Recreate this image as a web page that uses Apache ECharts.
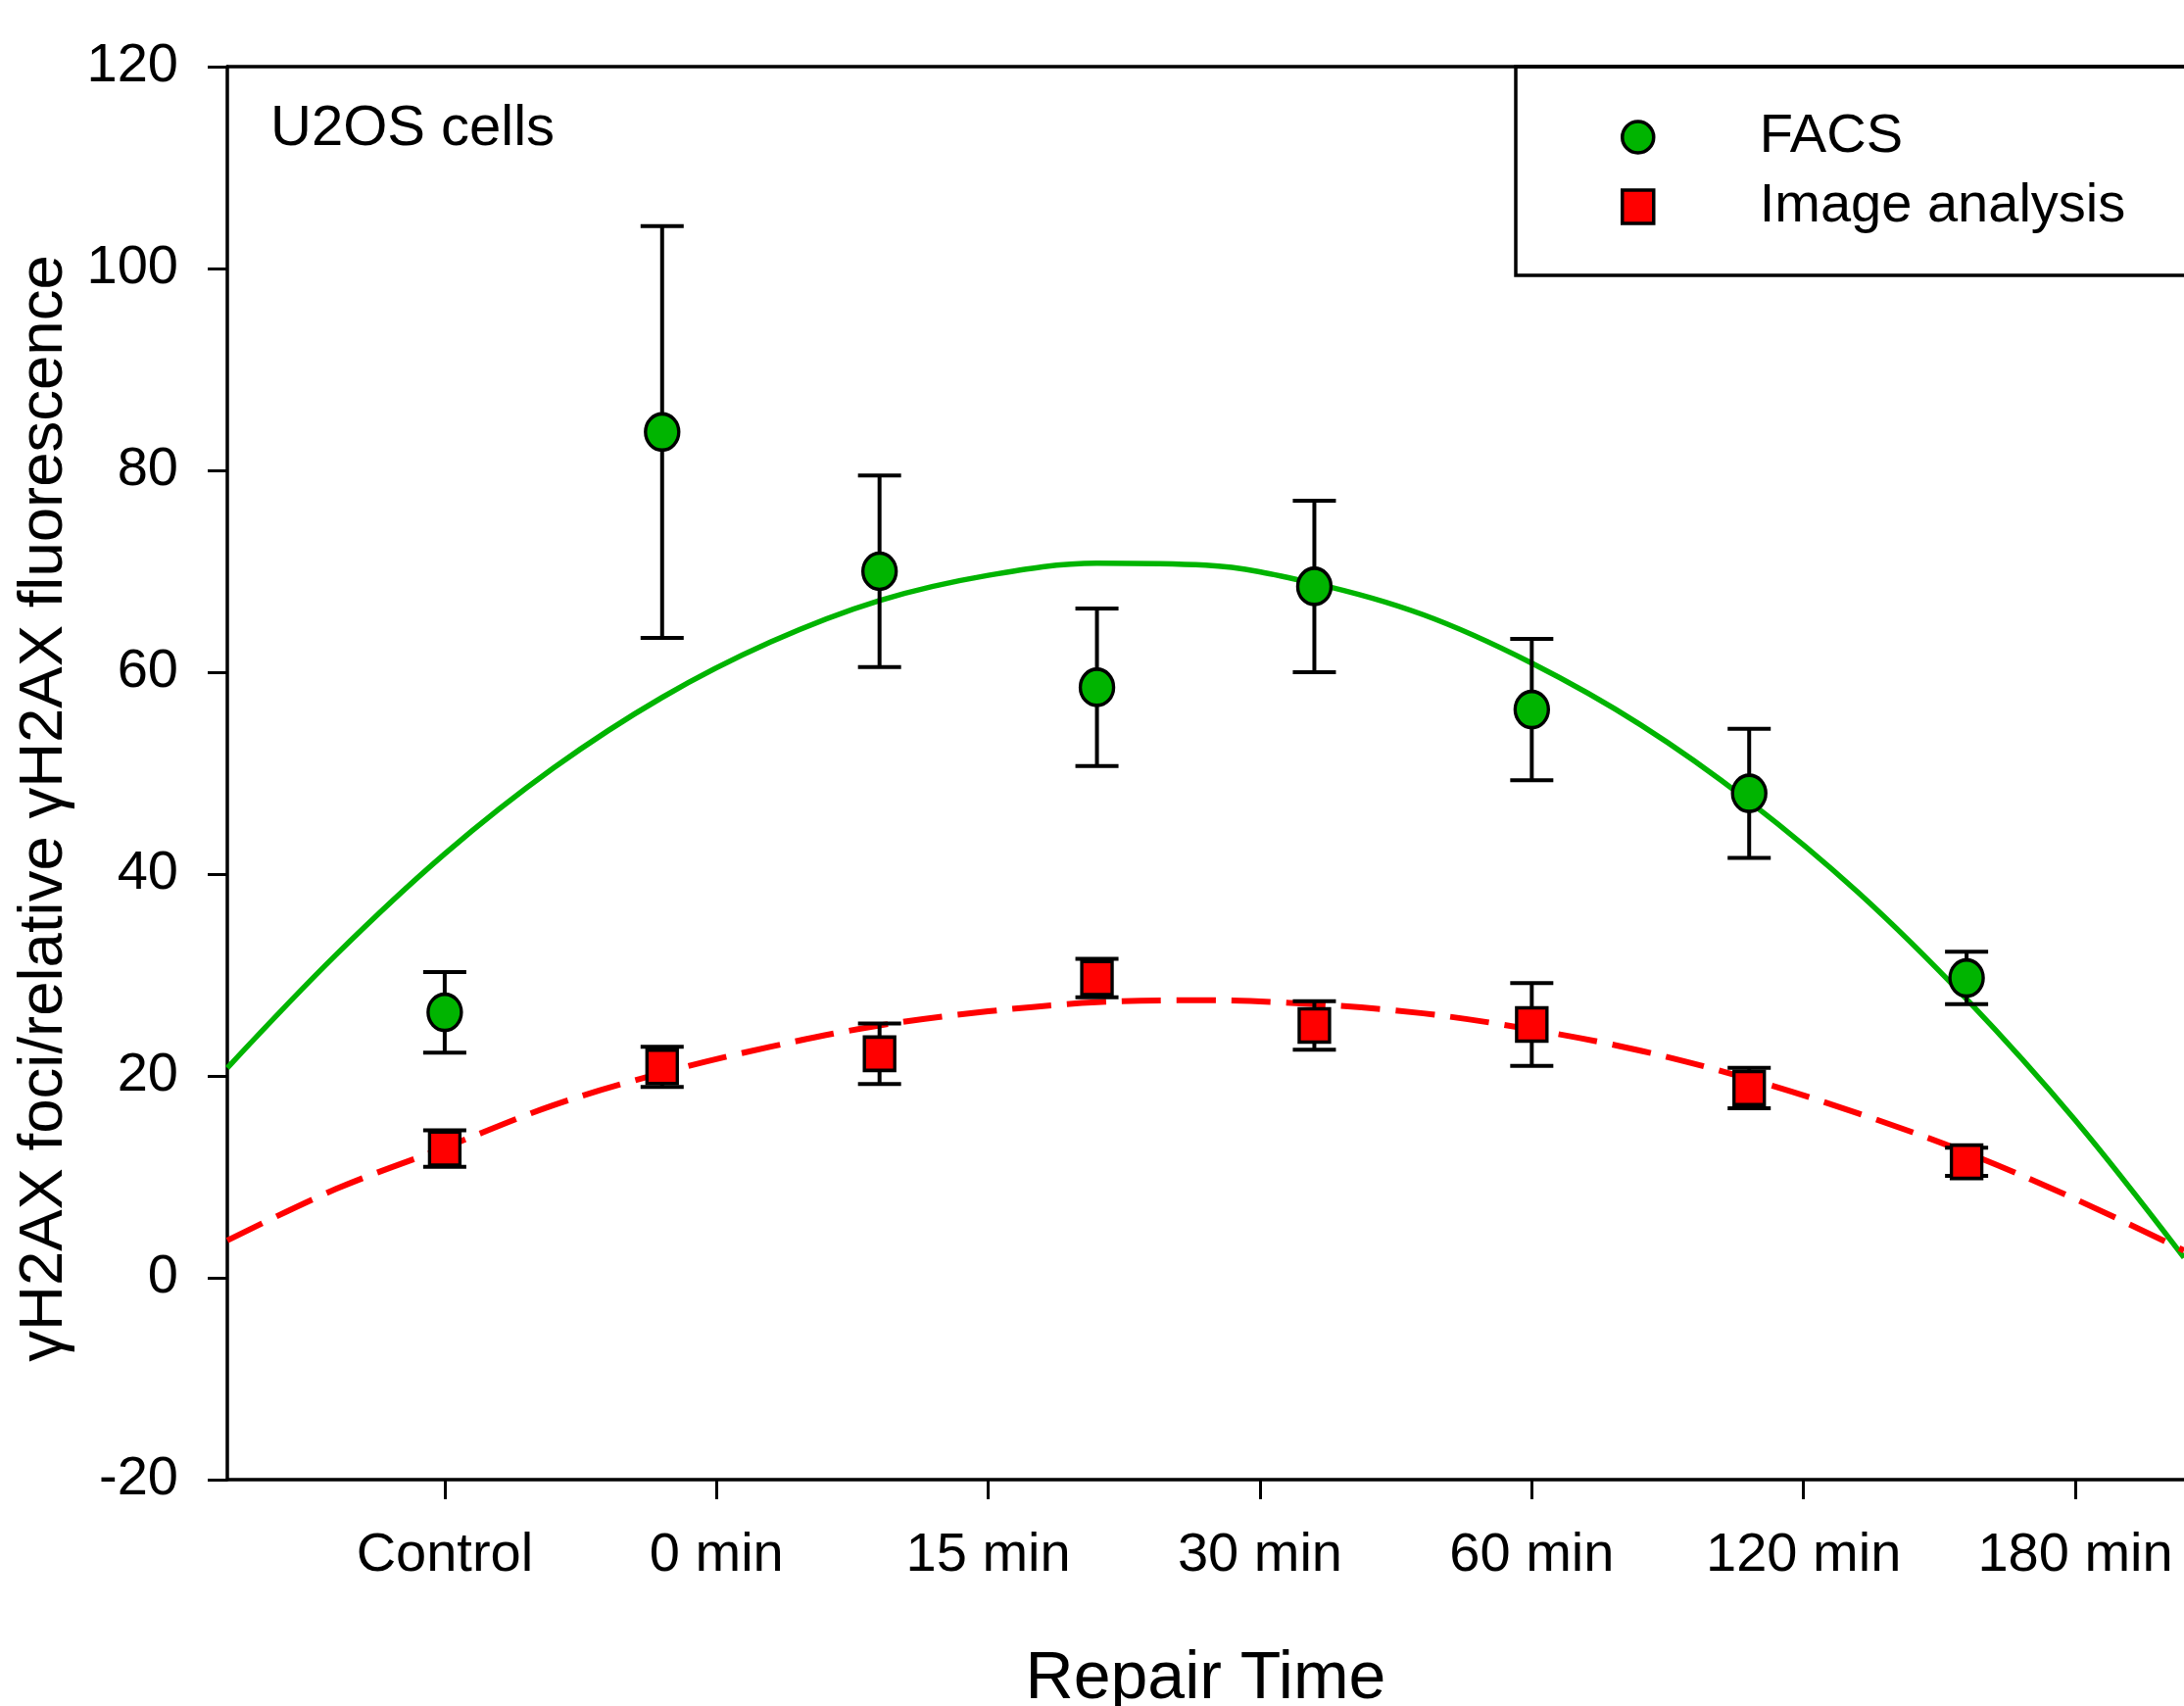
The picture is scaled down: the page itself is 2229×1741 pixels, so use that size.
<!DOCTYPE html>
<html>
<head>
<meta charset="utf-8">
<script src="https://cdn.jsdelivr.net/npm/echarts@6/dist/echarts.min.js"></script>
<style>
html,body{margin:0;padding:0;background:#fff;overflow:hidden}
#chart{width:2229px;height:1741px}
</style>
</head>
<body>
<div id="chart"></div>
<script>
// ---- data ----
const pointX = [1, 2, 3, 4, 5, 6, 7, 8];
const facsMean = [26.3, 83.8, 70.0, 58.5, 68.5, 56.3, 48.0, 29.7];
const facsErr  = [4.0, 20.4, 9.5, 7.8, 8.5, 7.0, 6.4, 2.6];
const imageMean = [12.8, 20.9, 22.2, 29.7, 25.0, 25.1, 18.8, 11.5];
const imageErr  = [1.8, 2.0, 3.0, 1.9, 2.4, 4.1, 2.0, 1.4];

const fitX    = [0, 0.5, 1, 1.5, 2, 2.5, 3, 3.5, 4, 4.5, 5, 5.5, 6, 6.5, 7, 7.5, 8, 8.5, 9];
const facsFit = [20.8, 32.0, 42.0, 50.5, 57.5, 63.0, 67.1, 69.6, 70.8, 70.6, 68.8, 65.7, 60.9, 54.8, 47.2, 38.2, 27.6, 15.6, 2.0];
const imageFit = [3.7, 8.8, 12.9, 17.1, 20.3, 22.9, 25.0, 26.4, 27.3, 27.5, 27.1, 26.2, 24.6, 22.5, 19.7, 16.3, 12.4, 7.8, 2.7];

const tickValues = [1, 2.25, 3.5, 4.75, 6, 7.25, 8.5];
const tickLabels = ['Control', '0 min', '15 min', '30 min', '60 min', '120 min', '180 min'];

const FONT = '"Liberation Sans", Arial, sans-serif';
const GREEN = '#00b400';
const RED = '#ff0000';

function errorBars(means, errs) {
  return {
    type: 'custom',
    xAxisIndex: 0, yAxisIndex: 0,
    silent: true,
    z: 3,
    data: pointX.map((x, i) => [x, means[i] - errs[i], means[i] + errs[i]]),
    encode: { x: 0, y: [1, 2] },
    renderItem: function (params, api) {
      const x = api.value(0);
      const lo = api.coord([x, api.value(1)]);
      const hi = api.coord([x, api.value(2)]);
      const hw = 22;
      const style = { stroke: '#000', lineWidth: 4, fill: null };
      return {
        type: 'group',
        children: [
          { type: 'line', shape: { x1: lo[0], y1: lo[1], x2: hi[0], y2: hi[1] }, style: style },
          { type: 'line', shape: { x1: lo[0] - hw, y1: lo[1], x2: lo[0] + hw, y2: lo[1] }, style: style },
          { type: 'line', shape: { x1: hi[0] - hw, y1: hi[1], x2: hi[0] + hw, y2: hi[1] }, style: style }
        ]
      };
    }
  };
}

const chart = echarts.init(document.getElementById('chart'), null, { renderer: 'canvas' });
chart.setOption({
  animation: false,
  backgroundColor: '#fff',
  title: {
    text: 'U2OS cells',
    left: 276, top: 103, padding: 0,
    textStyle: { fontSize: 58, fontWeight: 'normal', color: '#000', fontFamily: FONT }
  },
  graphic: [
    {
      type: 'rect', silent: true, z: 10,
      shape: { x: 1547, y: 68, width: 800, height: 213 },
      style: { fill: 'none', stroke: '#000', lineWidth: 3.5 }
    }
  ],
  legend: {
    data: [
      { name: 'FACS', icon: 'circle', itemStyle: { color: GREEN, borderColor: '#000', borderWidth: 3.5 } },
      { name: 'Image analysis', icon: 'rect', itemStyle: { color: RED, borderColor: '#000', borderWidth: 3.5 } }
    ],
    orient: 'vertical',
    left: 1654, top: 112,
    padding: 0,
    itemWidth: 32, itemHeight: 34, itemGap: 15,
    selectedMode: false,
    formatter: function (name) { return '{g|}{t|' + name + '}'; },
    textStyle: {
      fontSize: 56, color: '#000', fontFamily: FONT, lineHeight: 56,
      rich: {
        g: { width: 103, height: 56 },
        t: { fontSize: 56, color: '#000', fontFamily: FONT, lineHeight: 56 }
      }
    }
  },
  grid: { left: 232, right: 0, top: 68, bottom: 231, containLabel: false, outerBoundsMode: 'none' },
  xAxis: [
    {
      type: 'value', position: 'bottom', min: 0, max: 9,
      axisLine: { show: true, onZero: false, lineStyle: { color: '#000', width: 3.5 } },
      axisTick: { show: true, length: 20, customValues: tickValues, lineStyle: { color: '#000', width: 3 } },
      axisLabel: {
        customValues: tickValues,
        formatter: function (v) {
          const i = tickValues.findIndex(t => Math.abs(t - v) < 1e-6);
          return i >= 0 ? tickLabels[i] : '';
        },
        margin: 50, fontSize: 56, color: '#000', fontFamily: FONT
      },
      splitLine: { show: false },
      name: 'Repair Time', nameLocation: 'middle', nameGap: 170,
      nameTextStyle: { fontSize: 68, color: '#000', fontFamily: FONT }
    },
    {
      type: 'value', position: 'top', min: 0, max: 9,
      axisLine: { show: true, onZero: false, lineStyle: { color: '#000', width: 3.5 } },
      axisTick: { show: false }, axisLabel: { show: false }, splitLine: { show: false }
    }
  ],
  yAxis: {
    type: 'value', min: -20, max: 120, interval: 20,
    axisLine: { show: true, onZero: false, lineStyle: { color: '#000', width: 3.5 } },
    axisTick: { show: true, length: 20, lineStyle: { color: '#000', width: 3 } },
    axisLabel: { margin: 50, fontSize: 56, color: '#000', fontFamily: FONT },
    splitLine: { show: false },
    name: 'γH2AX foci/relative γH2AX fluorescence',
    nameLocation: 'middle', nameGap: 125,
    nameTextStyle: { fontSize: 63.5, color: '#000', fontFamily: FONT, padding: [0, 72, 0, 0] }
  },
  series: [
    {
      name: 'FACS fit', type: 'line', smooth: 0.35, showSymbol: false, silent: true, z: 2,
      data: fitX.map((x, i) => [x, facsFit[i]]),
      lineStyle: { color: GREEN, width: 5.5 }
    },
    {
      name: 'Image fit', type: 'line', smooth: 0.35, showSymbol: false, silent: true, z: 2,
      data: fitX.map((x, i) => [x, imageFit[i]]),
      lineStyle: { color: RED, width: 6, type: [40, 16] }
    },
    errorBars(facsMean, facsErr),
    errorBars(imageMean, imageErr),
    {
      name: 'FACS', type: 'scatter', symbol: 'circle', symbolSize: [34, 37], z: 5,
      data: pointX.map((x, i) => [x, facsMean[i]]),
      itemStyle: { color: GREEN, borderColor: '#000', borderWidth: 3.5, opacity: 1 }
    },
    {
      name: 'Image analysis', type: 'scatter', symbol: 'rect', symbolSize: [31, 34], z: 5,
      data: pointX.map((x, i) => [x, imageMean[i]]),
      itemStyle: { color: RED, borderColor: '#000', borderWidth: 3.5, opacity: 1 }
    }
  ]
});
</script>
</body>
</html>
